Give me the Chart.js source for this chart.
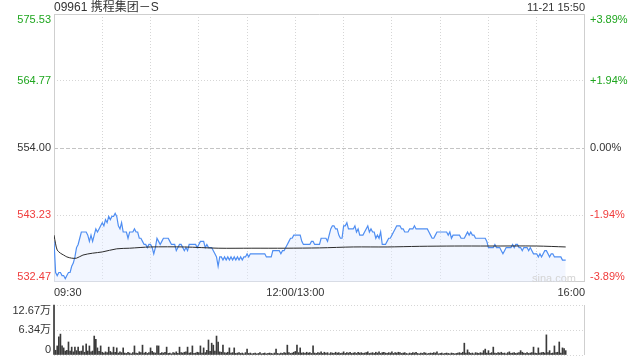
<!DOCTYPE html>
<html><head><meta charset="utf-8">
<script src="https://cdn.jsdelivr.net/npm/chart.js@4"></script>
<style>
html,body{margin:0;padding:0;background:#fff;width:640px;height:360px;overflow:hidden;font-family:"Liberation Sans",Arial,"Noto Sans CJK SC",sans-serif;}
#wrap{position:relative;width:640px;height:360px;}
#main{position:absolute;left:0;top:0;}
#vol{position:absolute;left:0;top:300px;}
.t{position:absolute;color:#333;white-space:nowrap;}
</style></head><body>
<div id="wrap">
<canvas id="main" width="640" height="300"></canvas>
<canvas id="vol" width="640" height="60"></canvas>
<div class="t" style="left:54px;top:0px;font-size:12px;line-height:15px;">09961 携程集团－S</div>
<div class="t" style="right:55px;top:0px;font-size:11px;line-height:15px;">11-21 15:50</div>
<div class="t" style="left:532px;top:272px;font-size:11px;line-height:13px;color:#d4d4d4;">sina.com</div>
</div>
<script>
// ---- data ----
const title = '09961 携程集团－S';
// one price per minute from 09:30 (index 0); 12:00/13:00 at index 150
const price = [
539.0,534.0,533.5,534.0,534.0,533.5,533.5,533.0,533.5,534.0,
534.0,535.0,535.5,536.5,538.0,538.5,539.5,540.5,540.5,540.5,
540.5,540.0,539.0,540.0,539.0,540.0,541.0,540.5,541.0,541.5,
542.0,541.5,542.5,542.0,543.0,542.5,543.0,543.0,543.5,543.0,
541.5,541.0,542.0,540.5,540.5,540.5,539.5,540.5,540.5,540.5,
541.0,540.5,540.5,539.5,539.5,539.0,538.5,538.5,538.0,538.5,
538.5,538.0,537.0,538.0,539.5,539.0,538.5,539.0,539.5,539.5,
539.5,539.5,539.0,538.5,538.5,538.5,537.5,538.0,538.5,538.5,
538.0,537.5,538.0,537.5,538.5,538.5,538.5,538.5,538.5,538.0,
538.5,539.0,539.0,539.0,538.0,538.5,538.0,538.0,538.0,537.5,
537.0,536.5,535.0,536.5,536.5,536.0,536.5,536.0,536.5,536.0,
536.5,536.0,536.5,536.0,536.5,536.0,536.5,536.0,536.5,536.5,
537.0,536.5,537.0,537.0,537.0,537.0,537.0,537.0,537.0,537.0,
537.0,537.0,536.5,536.5,536.5,536.5,537.5,537.5,537.5,537.5,
537.5,537.0,537.5,537.5,538.0,538.5,539.0,539.5,539.5,540.0,
540.0,540.0,540.0,540.0,539.0,538.5,538.5,538.5,538.5,538.5,
539.0,539.0,538.5,538.5,538.5,538.5,539.5,539.5,539.5,539.5,
539.0,540.0,541.0,541.5,541.5,541.0,541.0,540.0,539.5,539.5,
541.5,541.5,542.0,541.0,541.0,541.0,541.0,541.5,540.5,541.0,
540.0,540.0,540.0,540.5,541.0,541.5,540.5,541.0,540.5,540.5,
539.5,540.0,539.5,540.5,538.5,538.5,538.5,539.0,539.5,539.5,
540.0,540.5,541.0,541.5,541.5,541.5,541.0,541.0,540.5,540.5,
540.5,541.0,541.0,541.0,541.5,541.0,541.0,541.0,541.0,541.0,
541.0,541.0,541.0,540.5,540.0,539.5,539.5,540.0,540.5,540.5,
540.5,540.5,540.5,540.5,540.5,540.0,540.5,539.5,540.0,540.0,
540.0,540.0,540.0,539.5,539.5,539.5,540.0,540.5,540.0,540.5,
540.0,540.0,539.5,539.5,539.5,539.5,539.5,539.5,539.5,539.0,
538.0,538.0,538.0,538.0,538.5,538.0,538.0,538.0,537.5,537.0,
537.5,538.0,538.0,538.0,538.0,538.5,538.0,538.5,538.5,538.0,
538.0,537.5,538.0,538.0,538.0,537.5,538.0,537.5,537.0,537.0,
537.0,536.5,537.0,536.5,537.0,537.5,537.5,537.0,536.5,537.0,
537.0,536.5,536.5,536.5,536.5,536.5,536.0,536.0,536.0
];
// average price line, read at these minutes
const avgMinute = [0,1,2,4,6,8,11,14,18,24,30,39,47,60,81,102,123,144,165,186,207,227,249,270,300,318];
const avgPrice  = [540.0,538.6,537.6,537.1,536.8,536.5,536.3,536.3,536.8,537.1,537.3,537.8,537.9,538.1,538.1,537.9,537.9,537.9,537.95,538.1,538.1,538.2,538.25,538.25,538.25,538.1];
// volume per minute, in 万
const volume = [
12.67,1.2,2.3,4.6,5.3,2.3,1.8,1.0,1.2,3.3,
1.0,2.0,0.8,2.0,1.1,2.0,0.9,1.0,2.3,0.7,
2.8,1.0,2.3,0.8,1.0,4.8,4.0,1.8,0.9,2.3,
0.7,0.5,0.8,0.6,2.0,0.9,0.6,2.0,0.7,1.8,
0.5,0.8,0.6,1.8,0.5,0.4,0.7,0.5,0.3,0.6,
2.3,0.5,0.4,0.8,0.6,2.5,0.5,0.7,0.4,0.6,
1.8,0.9,0.6,0.5,2.3,2.3,0.4,0.6,0.5,0.7,
2.0,0.4,0.5,0.3,0.6,0.5,0.8,0.4,2.0,0.6,
0.5,0.7,0.8,2.0,0.5,0.6,2.3,0.4,0.5,0.7,
0.6,2.3,0.5,1.8,0.6,1.2,3.8,0.9,3.0,2.5,
1.0,4.8,3.3,0.8,0.7,2.5,0.6,0.5,0.7,1.8,
0.5,0.6,1.8,0.4,0.5,0.6,0.4,0.5,0.3,0.6,
1.5,0.4,0.5,0.3,0.4,0.5,0.3,0.4,0.6,0.3,
0.4,0.5,0.3,0.4,0.5,0.4,0.3,0.5,1.5,0.4,
0.3,0.5,0.4,0.6,0.5,2.5,0.6,0.4,0.5,0.7,
0.9,2.5,0.6,1.8,0.5,0.6,0.4,0.7,0.5,0.6,
0.4,2.3,0.5,0.4,0.6,0.5,0.8,0.4,0.7,0.5,
0.6,0.3,0.6,0.5,0.4,0.7,0.5,0.6,0.4,0.5,
0.8,0.4,0.6,0.5,0.7,0.4,0.5,0.6,0.4,0.7,
0.5,0.6,0.4,0.5,0.6,0.8,0.4,0.5,0.6,0.4,
0.7,0.5,0.8,0.4,0.6,0.7,0.5,0.4,0.6,0.5,
0.8,0.4,0.6,0.5,0.7,0.6,0.4,0.5,0.6,0.4,
0.3,0.5,0.4,0.6,0.5,0.7,0.4,0.3,0.5,0.4,
0.6,0.5,0.3,0.4,0.5,0.4,0.6,0.5,0.8,0.3,
0.4,0.5,0.3,0.4,0.5,0.4,0.3,0.5,0.4,0.3,
0.4,0.5,0.6,0.4,0.7,3.0,0.5,1.3,0.6,0.4,
0.5,0.3,0.6,0.5,0.4,0.6,0.5,1.1,1.5,0.5,
1.1,0.4,0.6,2.0,0.5,0.4,0.6,0.5,0.7,0.4,
0.5,0.3,0.6,0.8,0.4,0.5,0.6,0.4,0.5,0.6,
1.1,0.7,0.5,0.4,0.6,0.4,0.5,0.6,2.0,0.5,
0.4,1.8,0.5,0.6,0.7,0.5,5.1,0.6,1.1,0.4,
0.5,2.3,0.6,0.7,3.3,0.5,1.8,1.6,1.1
];
// axes
const gridMinutes = [0,30,60,90,120,150,180,210,240,270,300,330];
const xTickMinutes = [0,150,330];
const xTickLabels = ['09:30','12:00/13:00','16:00'];
const priceTicks = [532.47,543.23,554.00,564.77,575.53];
const priceLabels = ['532.47','543.23','554.00','564.77','575.53'];
const pctLabels = ['-3.89%','-1.94%','0.00%','+1.94%','+3.89%'];
const volTicks = [0,6.335,12.67];
const volLabels = ['0','6.34万','12.67万'];

// ---- styling ----
const RED='#f03c3c', GREEN='#1fa61f', GREY='#333333';
const tickColors=[RED,RED,GREY,GREEN,GREEN];
Chart.defaults.font.family='"Liberation Sans", Arial, "Noto Sans CJK SC", sans-serif';
Chart.defaults.font.size=11;

function edgeLabel(text, i, n){
  if(i===0) return [text,''];
  if(i===n-1) return ['',text];
  return text;
}
function fitY(w){
  return s=>{ s.width = w; s.paddingTop = 0; s.paddingBottom = 0; };
}

const frame = {
  id:'frame',
  beforeDatasetsDraw(chart, args, opts){
    const {ctx, chartArea:a} = chart;
    ctx.save();
    ctx.strokeStyle = opts.color || '#cfcfcf';
    ctx.lineWidth = 1;
    ctx.beginPath();
    const s = opts.sides || 'lrtb';
    if(s.includes('l')){ctx.moveTo(a.left+0.5,a.top);ctx.lineTo(a.left+0.5,a.bottom);}
    if(s.includes('r')){ctx.moveTo(a.right-0.5,a.top);ctx.lineTo(a.right-0.5,a.bottom);}
    if(s.includes('t')){ctx.moveTo(a.left,a.top+0.5);ctx.lineTo(a.right,a.top+0.5);}
    if(s.includes('b')){ctx.moveTo(a.left,a.bottom-0.5);ctx.lineTo(a.right,a.bottom-0.5);}
    ctx.stroke();
    ctx.restore();
  }
};

new Chart(document.getElementById('main'), {
  type:'line',
  data:{datasets:[
    {label:'均价', data: avgMinute.map((m,i)=>({x:m,y:avgPrice[i]})), borderColor:'#2b2b2b', borderWidth:1, pointRadius:0, fill:false, tension:0.3, order:0},
    {label:title, data: price.map((v,i)=>({x:i,y:v})), borderColor:'#4f8ef2', borderWidth:1.2, pointRadius:0, tension:0, fill:'start', backgroundColor:'rgba(226,235,255,0.45)', order:1}
  ]},
  options:{
    responsive:false, animation:false, events:[],
    layout:{padding:{top:14,left:0,right:0,bottom:0}},
    plugins:{legend:{display:false}, tooltip:{enabled:false}, frame:{color:'#cfcfcf', sides:'lrtb'}},
    scales:{
      x:{type:'linear', min:0, max:330, offset:false,
        afterBuildTicks:s=>{ s.ticks = gridMinutes.map(v=>({value:v})); },
        afterFit:s=>{ s.height = 18; s.paddingLeft = 0; s.paddingRight = 0; },
        ticks:{autoSkip:false, maxRotation:0, align:'inner', padding:4, color:GREY,
          callback:(v)=>{ const k = xTickMinutes.indexOf(v); return k>=0 ? xTickLabels[k] : ''; }},
        grid:{drawTicks:false, lineWidth:1, color:ctx=>(ctx.index===0||ctx.index===gridMinutes.length-1)?'rgba(0,0,0,0)':'#d6d6d6'},
        border:{display:false, dash:[1,2]}
      },
      y:{position:'left', min:532.47, max:575.53,
        afterBuildTicks:s=>{ s.ticks = priceTicks.map(v=>({value:v})); },
        afterFit:fitY(54),
        ticks:{autoSkip:false, padding:3, font:{size:11, lineHeight:1}, color:ctx=>tickColors[ctx.index],
          callback:(v,i,arr)=>edgeLabel(priceLabels[i], i, arr.length)},
        grid:{drawTicks:false, lineWidth:1, color:ctx=>(ctx.index===0||ctx.index===priceTicks.length-1)?'rgba(0,0,0,0)':(ctx.index===2?'#c4c4c4':'#d6d6d6')},
        border:{display:false, dash:ctx=>ctx.index===2?[4,2]:[1,2]}
      },
      y2:{position:'right', min:532.47, max:575.53,
        afterBuildTicks:s=>{ s.ticks = priceTicks.map(v=>({value:v})); },
        afterFit:fitY(55),
        ticks:{autoSkip:false, padding:5, font:{size:11, lineHeight:1}, color:ctx=>tickColors[ctx.index],
          callback:(v,i,arr)=>edgeLabel(pctLabels[i], i, arr.length)},
        grid:{display:false, drawTicks:false},
        border:{display:false}
      }
    }
  },
  plugins:[frame]
});

new Chart(document.getElementById('vol'), {
  type:'bar',
  data:{datasets:[{label:'成交量', data: volume.map((v,i)=>({x:i,y:v})), backgroundColor:'#3a3a3a', barThickness:1, borderWidth:0, clip:false}]},
  options:{
    responsive:false, animation:false, events:[],
    layout:{padding:{top:5,bottom:5,left:0,right:55}},
    plugins:{legend:{display:false}, tooltip:{enabled:false}, frame:{color:'#cfcfcf', sides:'lr'}},
    scales:{
      x:{type:'linear', min:0, max:330, offset:false, display:false, grid:{offset:false}},
      y:{position:'left', min:0, max:12.67,
        afterBuildTicks:s=>{ s.ticks = volTicks.map(v=>({value:v})); },
        afterFit:fitY(54),
        ticks:{autoSkip:false, padding:3, color:GREY, font:{size:11, lineHeight:1},
          callback:(v,i,arr)=>edgeLabel(volLabels[i], i, arr.length)},
        grid:{drawTicks:false, lineWidth:1, color:'#d6d6d6'},
        border:{display:false, dash:[1,2]}
      }
    }
  },
  plugins:[frame]
});
</script>
</body></html>
